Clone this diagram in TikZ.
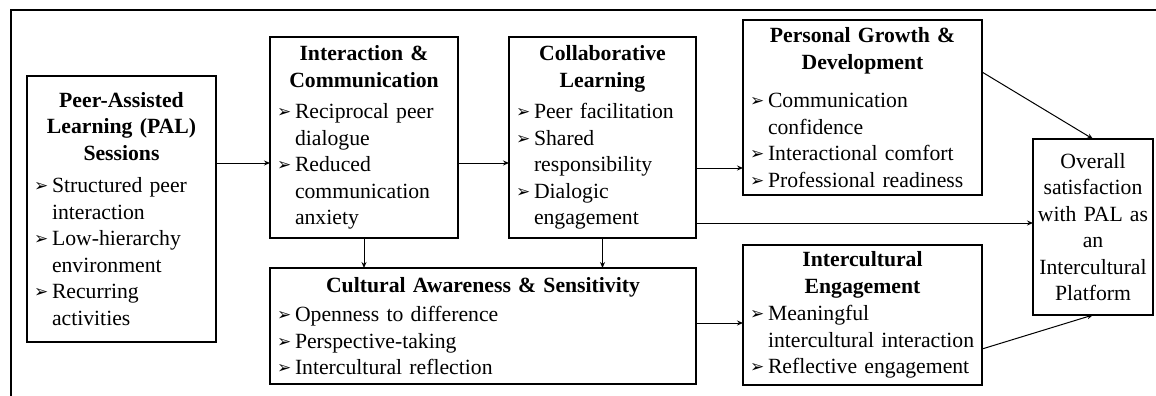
\documentclass[tikz,border=0pt]{standalone}
\usepackage{fontspec}
\setmainfont{Liberation Serif}
\newfontfamily\symfont{DejaVu Sans}
\usetikzlibrary{arrows.meta}

\newcommand{\mk}{\raisebox{1pt}{\symfont\fontsize{17}{17}\selectfont ➢}}
\newcommand{\ttl}[2][4pt]{{\centering\bfseries #2\par}\vspace{#1}}
\newcommand{\itm}[1]{\par\hangindent=18pt\hangafter=1\noindent\makebox[18pt][l]{\mk}#1\par}

\begin{document}
\begin{tikzpicture}[x=1pt, y=-1pt, >={Stealth[length=6pt,width=5pt]},
                    box/.style={draw=black, line width=1.4pt, inner xsep=7pt, inner ysep=0pt, outer sep=0pt,
                                align=left, font=\fontsize{21.7}{26.5}\selectfont},
                    link/.style={->, line width=1pt}]
    \useasboundingbox (0,0) rectangle (1156,396);
    % frame
    \draw[line width=1.2pt] (11,396) -- (11,10) -- (1156,10);
    % nodes
    \node[box, text width=175pt, minimum height=266pt] (pal) at (121.5,209)
        {\ttl[6pt]{Peer-Assisted\\Learning (PAL)\\Sessions}
         \itm{Structured peer\newline interaction}
         \itm{Low-hierarchy\newline environment}
         \itm{Recurring\newline activities}};
    \node[box, text width=174pt, minimum height=201pt] (inter) at (364,137.5)
        {\ttl[5pt]{Interaction \&\\Communication}
         \itm{Reciprocal peer\newline dialogue}
         \itm{Reduced\newline communication\newline anxiety}};
    \node[box, text width=173pt, minimum height=201pt] (collab) at (602.5,137.5)
        {\ttl[5pt]{Collaborative\\Learning}
         \itm{Peer facilitation}
         \itm{Shared\newline responsibility}
         \itm{Dialogic\newline engagement}};
    \node[box, text width=225pt, minimum height=175pt] (growth) at (862.5,107.5)
        {\ttl[12pt]{Personal Growth \&\\Development}
         \itm{Communication\newline confidence}
         \itm{Interactional comfort}
         \itm{Professional readiness}};
    \node[box, text width=412pt, minimum height=116pt] (culture) at (483,326)
        {\ttl[3pt]{Cultural Awareness \& Sensitivity}
         \itm{Openness to difference}
         \itm{Perspective-taking}
         \itm{Intercultural reflection}};
    \node[box, text width=225pt, minimum height=140pt] (engage) at (862.5,315)
        {\ttl[1pt]{Intercultural\\Engagement}
         \itm{Meaningful\newline intercultural interaction}
         \itm{Reflective engagement}};
    \node[box, align=center, inner xsep=2pt, text width=116pt, minimum height=176pt] (overall) at (1093,227)
        {Overall\\satisfaction\\with PAL as\\an\\Intercultural\\Platform};
    % lines
    \draw[link] (pal.east |- 0,163) -- (inter.west |- 0,163);
    \draw[link] (inter.east |- 0,163) -- (collab.west |- 0,163);
    \draw[link] (collab.east |- 0,168) -- (growth.west |- 0,168);
    \draw[link] (collab.east |- 0,223) -- (overall.west |- 0,223);
    \draw[link] (inter.south) -- (inter.south |- culture.north);
    \draw[link] (collab.south) -- (collab.south |- culture.north);
    \draw[link] (culture.east |- 0,323) -- (engage.west |- 0,323);
    \draw[link] (growth.east |- 0,72) -- (overall.north);
    \draw[link] (engage.east |- 0,349) -- (overall.south);
\end{tikzpicture}
\end{document}
